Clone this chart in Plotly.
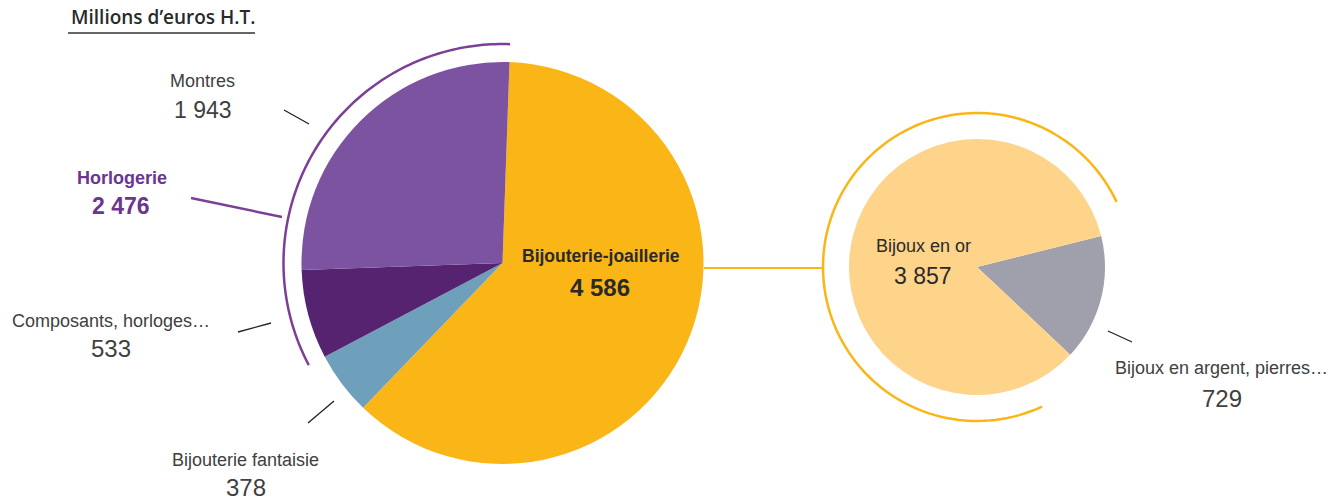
import numpy as np
import plotly.graph_objects as go

W, H = 1343, 501

# ---- data ----
main_labels = ["Bijouterie-joaillerie", "Bijouterie fantaisie", "Composants, horloges…", "Montres"]
main_values = [4586, 378, 533, 1943]
main_colors = ["#FAB617", "#6FA0BB", "#55236F", "#7B53A1"]

sub_labels = ["Bijoux en argent, pierres…", "Bijoux en or"]
sub_values = [729, 3857]
sub_colors = ["#A09FAC", "#FED48A"]

group_label = "Horlogerie"
group_value = 2476

# ---- geometry (pixels) ----
c1x, c1y, r1 = 502.5, 263, 201
c2x, c2y, r2 = 977, 267, 128
rot1 = 2
rot2 = 76


def dom(cx, cy, r):
    return dict(x=[(cx - r) / W, (cx + r) / W], y=[1 - (cy + r) / H, 1 - (cy - r) / H])


fig = go.Figure()
fig.add_trace(go.Pie(labels=main_labels, values=main_values, sort=False, direction="clockwise",
                     rotation=rot1, marker=dict(colors=main_colors, line=dict(width=0)),
                     textinfo="none", hoverinfo="label+value", domain=dom(c1x, c1y, r1),
                     showlegend=False))
fig.add_trace(go.Pie(labels=sub_labels, values=sub_values, sort=False, direction="clockwise",
                     rotation=rot2, marker=dict(colors=sub_colors, line=dict(width=0)),
                     textinfo="none", hoverinfo="label+value", domain=dom(c2x, c2y, r2),
                     showlegend=False))
# invisible trace to set up pixel axes
fig.add_trace(go.Scatter(x=[0, W], y=[0, H], mode="markers", marker=dict(opacity=0),
                         hoverinfo="skip", showlegend=False))


def arc_path(cx, cy, r, a0, a1, n=120):
    t = np.radians(np.linspace(a0, a1, n))
    xs = cx + r * np.sin(t)
    ys = cy - r * np.cos(t)
    return "M " + " L ".join(f"{x:.2f},{y:.2f}" for x, y in zip(xs, ys))


total1 = sum(main_values)
# Horlogerie arc spans the last two slices (Composants + Montres)
h_start = rot1 + 360 * (main_values[0] + main_values[1]) / total1
h_end = rot1 + 360
shapes = [
    dict(type="path", path=arc_path(c1x, c1y, 219, h_start, h_end), line=dict(color="#7B3F98", width=2.5)),
    dict(type="path", path=arc_path(c2x, c2y, 154, 155, 425), line=dict(color="#FAB617", width=2.5)),
    dict(type="line", x0=704, y0=268, x1=823, y1=268, line=dict(color="#FAB617", width=2)),
    dict(type="line", x0=68, y0=33, x1=255, y1=33, line=dict(color="#333333", width=1.5)),
    dict(type="line", x0=284, y0=110, x1=309, y1=124, line=dict(color="#222222", width=1.3)),
    dict(type="line", x0=191, y0=198, x1=282, y1=217, line=dict(color="#7B3F98", width=2.5)),
    dict(type="line", x0=238, y0=332, x1=271, y1=323, line=dict(color="#222222", width=1.3)),
    dict(type="line", x0=308, y0=423, x1=334, y1=401, line=dict(color="#222222", width=1.3)),
    dict(type="line", x0=1108, y0=331, x1=1132, y1=342, line=dict(color="#222222", width=1.3)),
]
for s in shapes:
    s.update(xref="x", yref="y", layer="above")


def fmt(v):
    return f"{v:,}".replace(",", " ")


LF = "Liberation Sans"
ann = []


def lab(x, y, text, size, color="#404040", bold=False, family=LF, weight=None):
    f = dict(family=family, size=size, color=color)
    if weight:
        f["weight"] = weight
    ann.append(dict(x=x, y=y, xref="x", yref="y", text=f"<b>{text}</b>" if bold else text,
                    showarrow=False, xanchor="center", yanchor="middle", font=f))


lab(162.5, 17, "Millions d’euros H.T.", 19, "#2a2a2a", family="Open Sans", weight=600)
lab(202.5, 81, main_labels[3], 18)
lab(203, 110, fmt(main_values[3]), 23)
lab(121.5, 178, group_label, 18, "#6B3590", bold=True)
lab(121, 206, fmt(group_value), 23, "#6B3590", bold=True)
lab(110.5, 321, main_labels[2], 18)
lab(110.5, 348, fmt(main_values[2]), 24)
lab(245.5, 460, main_labels[1], 18)
lab(246, 487, fmt(main_values[1]), 24)
lab(600.5, 256, main_labels[0], 17.5, "#2a2a2a", bold=True)
lab(599.5, 287, fmt(main_values[0]), 24, "#2a2a2a", bold=True)
lab(923, 246, sub_labels[1], 18, "#2a2a2a")
lab(923, 276, fmt(sub_values[1]), 23, "#2a2a2a")
lab(1221, 368, sub_labels[0], 18)
lab(1221.5, 398, fmt(sub_values[0]), 24)

fig.update_layout(
    width=W, height=H, margin=dict(l=0, r=0, t=0, b=0),
    paper_bgcolor="white", plot_bgcolor="rgba(0,0,0,0)",
    xaxis=dict(range=[0, W], visible=False, domain=[0, 1], fixedrange=True),
    yaxis=dict(range=[H, 0], visible=False, domain=[0, 1], fixedrange=True),
    shapes=shapes, annotations=ann, showlegend=False,
)
fig.write_html("out.html", config={"displayModeBar": False},
               post_script="document.body.style.margin='0';")
